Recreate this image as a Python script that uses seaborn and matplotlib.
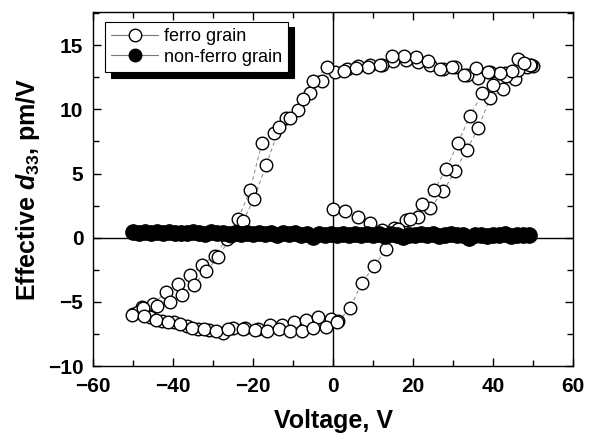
import numpy as np
import pandas as pd
import seaborn as sns
import matplotlib.pyplot as plt
from matplotlib.lines import Line2D
from matplotlib.ticker import MultipleLocator

# =====
# data (voltage in V, effective d33 in pm/V)

# first sweep 0 -> +50 (virgin)
virgin_v = [0.0, 3.0, 6.2, 9.25, 12.2, 15.2, 18.3, 21.3, 24.25, 27.6, 30.5, 33.4, 36.3, 39.25, 42.5, 45.5, 48.4, 50.0]
virgin_d = [2.26, 2.1, 1.65, 1.13, 0.6, 0.75, 1.35, 1.6, 2.3, 3.65, 5.2, 6.85, 8.55, 10.9, 11.6, 12.4, 13.3, 13.4]

# +50 -> -50, first cycle
down1_v = [49.5, 46.3, 43.0, 39.25, 36.3, 33.4, 30.5, 27.6, 24.25, 21.3, 18.25, 15.1, 12.2, 9.25, 6.3, 3.4, 0.5,
           -2.8, -5.75, -8.7, -11.75, -14.7, -17.8, -20.75, -23.7, -26.6, -29.5, -32.8, -35.75, -38.7, -41.75, -45.0, -47.8, -50.0]
down1_d = [13.5, 13.1, 12.8, 12.9, 12.45, 12.7, 13.3, 13.15, 13.5, 13.7, 13.85, 13.8, 13.45, 13.5, 13.4, 13.15, 12.9,
           12.2, 11.3, 9.95, 9.3, 8.15, 7.4, 3.7, 1.47, -0.1, -1.4, -2.1, -2.9, -3.6, -4.2, -5.2, -5.4, -5.95]

# -50 -> +50, first cycle
up1_v = [-48.7, -45.75, -42.8, -39.7, -36.6, -33.8, -31.0, -27.6, -25.0, -22.0, -18.8, -15.75, -12.8, -9.75, -6.75, -3.7, -0.6,
         1.3, 4.25, 7.2, 10.3, 13.25, 16.25, 19.25, 22.2, 25.3, 28.25, 31.2, 34.25, 37.3, 40.0, 43.2, 46.3, 49.25]
up1_d = [-5.8, -6.2, -6.5, -6.6, -6.9, -7.1, -7.2, -7.4, -7.05, -7.0, -7.15, -6.8, -6.8, -6.6, -6.4, -6.2, -6.3,
         -6.5, -5.5, -3.5, -2.2, -0.9, 0.7, 1.47, 2.65, 3.7, 5.35, 7.4, 9.5, 11.25, 11.9, 12.6, 13.9, 13.5]

# +50 -> -50, second cycle
down2_v = [47.8, 44.8, 41.8, 38.8, 35.8, 32.8, 29.8, 26.8, 23.8, 20.8, 17.8, 14.8, 11.8, 8.8, 5.8, 2.8,
           -1.6, -4.9, -7.6, -10.75, -13.4, -16.75, -19.75, -22.4, -25.5, -28.7, -31.75, -34.75, -37.8, -40.75, -44.0, -47.4, -50.3]
down2_d = [13.6, 13.0, 12.8, 12.9, 13.2, 12.7, 13.3, 13.15, 13.8, 14.1, 14.2, 14.2, 13.5, 13.3, 13.2, 13.0,
           13.3, 12.25, 10.8, 9.35, 8.6, 5.65, 3.05, 1.34, 0.1, -1.5, -2.6, -3.65, -4.45, -5.0, -5.3, -5.5, -6.0]

# -50 -> 0, second cycle
up2_v = [-47.2, -44.2, -41.2, -38.2, -35.2, -32.2, -29.2, -26.2, -22.6, -19.6, -16.6, -13.6, -10.75, -7.8, -4.9, -1.75, 0.9]
up2_d = [-6.1, -6.4, -6.6, -6.75, -7.0, -7.15, -7.3, -7.1, -7.1, -7.2, -7.3, -7.1, -7.3, -7.3, -7.05, -6.95, -6.6]

# non-ferroelectric grain
nf_v = [-50.0, -48.5, -47.0, -45.5, -44.0, -42.5, -41.0, -39.5, -38.0, -36.5, -35.0, -33.5, -32.0, -30.5,
        -29.0, -27.5, -26.0, -24.5, -23.0, -21.5, -20.0, -18.5, -17.0, -15.5, -14.0, -12.5, -11.0, -9.5,
        -8.0, -6.5, -5.0, -3.5, -2.0, -0.5, 1.0, 2.5, 4.0, 5.5, 7.0, 8.5, 10.0, 11.5, 13.0, 14.5, 16.0,
        17.5, 19.0, 20.5, 22.0, 23.5, 25.0, 26.5, 28.0, 29.5, 31.0, 32.5, 34.0, 35.5, 37.0, 38.5, 40.0,
        41.5, 43.0, 44.5, 46.0, 47.5, 49.0]
nf_d = [0.45, 0.40, 0.48, 0.38, 0.42, 0.35, 0.45, 0.37, 0.40, 0.33,
        0.42, 0.36, 0.30, 0.41, 0.34, 0.38, 0.28, 0.36, 0.31, 0.39,
        0.27, 0.35, 0.30, 0.37, 0.25, 0.33, 0.29, 0.36, 0.22, 0.30,
        0.05, 0.28, 0.20, 0.32, 0.24, 0.30, 0.18, 0.27, 0.22, 0.31,
        0.20, 0.28, 0.15, 0.26, 0.21, 0.02, 0.25, 0.18, 0.28, 0.20,
        0.26, 0.14, 0.22, 0.27, 0.18, 0.24, 0.00, 0.21, 0.25, 0.17,
        0.23, 0.19, 0.26, 0.16, 0.22, 0.20, 0.24]

# =====
# tables

ferro = pd.DataFrame({
    "V": virgin_v + down1_v + up1_v + down2_v + up2_v,
    "d33": virgin_d + down1_d + up1_d + down2_d + up2_d,
})
nonferro = pd.DataFrame({"V": nf_v, "d33": nf_d})

# =====
# plot

sns.set_style("ticks")
plt.rcParams["font.family"] = ["Liberation Sans", "DejaVu Sans"]
plt.rcParams["mathtext.fontset"] = "custom"
plt.rcParams["mathtext.rm"] = "Liberation Sans:bold"
plt.rcParams["mathtext.it"] = "Liberation Sans:bold:italic"
plt.rcParams["mathtext.bf"] = "Liberation Sans:bold"
for key in ["text.color", "axes.labelcolor", "xtick.color", "ytick.color", "axes.edgecolor"]:
    plt.rcParams[key] = "black"

fig, ax = plt.subplots(figsize=(5.89, 4.41), dpi=100)
fig.subplots_adjust(left=0.158, right=0.973, top=0.973, bottom=0.170)

ax.axhline(0, color="black", lw=1.0, zorder=1)
ax.axvline(0, color="black", lw=1.0, zorder=1)

sns.lineplot(data=ferro, x="V", y="d33", sort=False, estimator=None,
             color="#888888", lw=0.7, ls=(0, (4, 3)), ax=ax, zorder=2)
sns.scatterplot(data=ferro, x="V", y="d33", marker="o", s=82,
                facecolor="white", edgecolor="black", linewidth=1.0, ax=ax, zorder=3)
sns.scatterplot(data=nonferro, x="V", y="d33", marker="o", s=125,
                color="black", edgecolor="black", linewidth=0.8, ax=ax, zorder=4)

ax.set_xlim(-60, 60)
ax.set_ylim(-10, 17.6)
ax.xaxis.set_major_locator(MultipleLocator(20))
ax.xaxis.set_minor_locator(MultipleLocator(10))
ax.yaxis.set_major_locator(MultipleLocator(5))
ax.yaxis.set_minor_locator(MultipleLocator(2.5))
ax.tick_params(which="both", direction="in", top=True, right=True, width=1.0, colors="black")
ax.tick_params(which="major", length=6, labelsize=15)
ax.tick_params(which="minor", length=4)
ax.tick_params(axis="x", which="major", pad=8)
ax.tick_params(axis="y", which="major", pad=7)
for lab in ax.get_xticklabels() + ax.get_yticklabels():
    lab.set_fontweight("bold")
for sp in ax.spines.values():
    sp.set_linewidth(1.0)
    sp.set_color("black")

ax.set_xlabel("Voltage, V", fontsize=18, fontweight="bold", labelpad=9, color="black")
ax.set_ylabel(r"Effective $d_{33}$, pm/V", fontsize=18, fontweight="bold", labelpad=4, color="black")

handles = [
    Line2D([], [], color="#777777", lw=0.8, marker="o", ms=9, mfc="white", mec="black", mew=1.0),
    Line2D([], [], color="#777777", lw=0.8, marker="o", ms=9, mfc="black", mec="black"),
]
leg = ax.legend(handles, ["ferro grain", "non-ferro grain"], loc="upper left",
                bbox_to_anchor=(0.025, 0.972), borderaxespad=0, fontsize=13,
                handlelength=2.6, handletextpad=0.3, labelspacing=0.2,
                borderpad=0.35, fancybox=False, edgecolor="black", framealpha=1,
                shadow={"ox": 4, "oy": -4, "color": "black", "alpha": 1})
leg.get_frame().set_linewidth(0.8)
for t in leg.get_texts():
    t.set_color("black")

plt.savefig("out.png", dpi=100)
